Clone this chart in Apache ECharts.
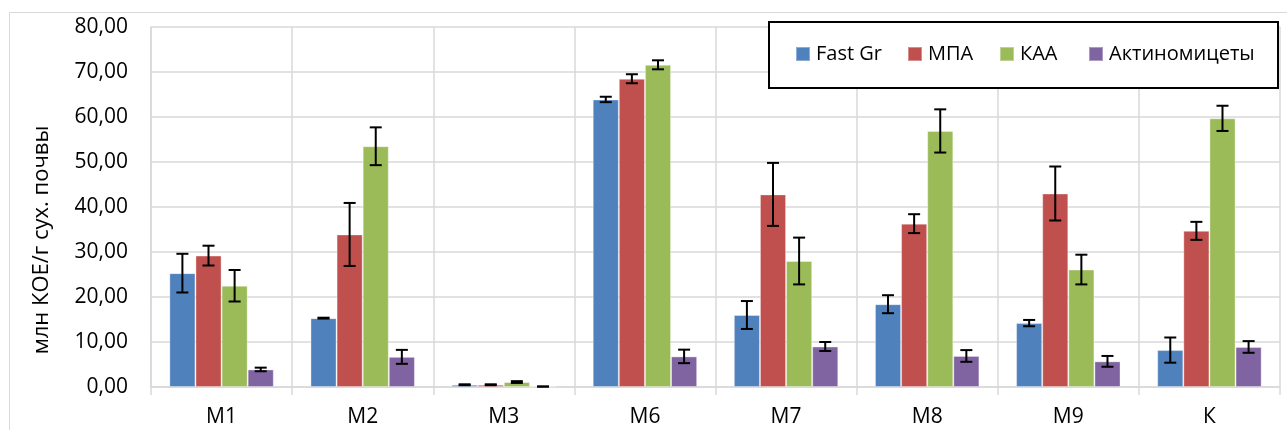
<!DOCTYPE html>
<html>
<head>
<meta charset="utf-8">
<script src="https://cdn.jsdelivr.net/npm/echarts@6/dist/echarts.min.js"></script>
<style>
html,body{margin:0;padding:0;background:#fff;}
#chart{width:1287px;height:430px;}
</style>
</head>
<body>
<div id="chart"></div>
<script>
const categories = ['М1', 'М2', 'М3', 'М6', 'М7', 'М8', 'М9', 'К'];
const seriesNames = ['Fast Gr', 'МПА', 'КАА', 'Актиномицеты'];
const fastGr     = [25.3, 15.3, 0.5, 63.9, 16.0, 18.4, 14.2, 8.2];
const fastGrErr  = [4.3, 0.1, 0.1, 0.6, 3.1, 2.0, 0.7, 2.8];
const mpa        = [29.2, 33.9, 0.5, 68.5, 42.8, 36.3, 43.0, 34.7];
const mpaErr     = [2.2, 7.0, 0.1, 1.0, 7.0, 2.1, 6.0, 2.0];
const kaa        = [22.5, 53.5, 1.1, 71.6, 28.0, 56.9, 26.1, 59.7];
const kaaErr     = [3.5, 4.2, 0.2, 1.0, 5.2, 4.8, 3.3, 2.8];
const actino     = [3.9, 6.7, 0.1, 6.8, 9.0, 6.9, 5.7, 8.9];
const actinoErr  = [0.4, 1.55, 0.0, 1.5, 1.0, 1.3, 1.2, 1.3];
const yTicks = {min: 0, max: 80, interval: 10};

const values = [fastGr, mpa, kaa, actino];
const errors = [fastGrErr, mpaErr, kaaErr, actinoErr];
const colors = ['#4F81BD', '#C0504D', '#9BBB59', '#8064A2'];
const gapPct = 0.26;
const FONT = '"Open Sans", "Liberation Sans", sans-serif';

const chart = echarts.init(document.getElementById('chart'), null, {renderer: 'canvas'});

const series = [];
values.forEach((vals, k) => {
  series.push({
    name: seriesNames[k],
    type: 'bar',
    data: vals,
    barGap: '0%',
    barCategoryGap: (gapPct * 100) + '%',
    itemStyle: {color: colors[k], borderColor: 'rgba(255,255,255,0.35)', borderWidth: 1},
    z: 2
  });
});
values.forEach((vals, k) => {
  series.push({
    type: 'custom',
    name: seriesNames[k] + ' err',
    z: 5,
    silent: true,
    data: vals.map((v, i) => [i, v - errors[k][i], v + errors[k][i]]),
    renderItem: function (params, api) {
      const i = api.value(0);
      const lo = api.coord([i, api.value(1)]);
      const hi = api.coord([i, api.value(2)]);
      const band = api.size([1, 0])[0];
      const barW = band * (1 - gapPct) / 4;
      const x = lo[0] + (k - 1.5) * barW;
      const cap = 6;
      const st = {stroke: '#000', lineWidth: 2};
      return {
        type: 'group',
        children: [
          {type: 'line', shape: {x1: x, y1: lo[1], x2: x, y2: hi[1]}, style: st},
          {type: 'line', shape: {x1: x - cap, y1: lo[1], x2: x + cap, y2: lo[1]}, style: st},
          {type: 'line', shape: {x1: x - cap, y1: hi[1], x2: x + cap, y2: hi[1]}, style: st}
        ]
      };
    }
  });
});

const legendX = [795, 907, 999, 1088];
const legends = seriesNames.map((n, k) => ({
  data: [n],
  left: legendX[k],
  top: 44,
  padding: 0,
  itemWidth: 14,
  itemHeight: 14,
  icon: 'rect',
  z: 20,
  textStyle: {fontFamily: FONT, fontSize: 20, color: '#000', padding: [0, 0, 0, 1]}
}));

chart.setOption({
  animation: false,
  backgroundColor: '#fff',
  grid: {left: 151, right: 7, top: 27, bottom: 43, containLabel: false},
  legend: legends,
  graphic: [
    {type: 'rect', z: 0, silent: true,
     shape: {x: 9.5, y: 12.5, width: 1300, height: 440},
     style: {fill: 'none', stroke: '#d9d9d9', lineWidth: 1}},
    {type: 'rect', z: 10, silent: true,
     shape: {x: 769, y: 22, width: 509, height: 66},
     style: {fill: '#fff', stroke: '#000', lineWidth: 2}},
    {type: 'text', z: 10, silent: true,
     x: 42, y: 240, rotation: Math.PI / 2,
     style: {text: 'млн КОЕ/г сух. почвы', font: '22px ' + FONT, fill: '#000',
              textAlign: 'center', textVerticalAlign: 'middle',
              align: 'center', verticalAlign: 'middle'}}
  ],
  xAxis: {
    type: 'category',
    data: categories,
    boundaryGap: true,
    axisLine: {show: true, lineStyle: {color: '#d9d9d9', width: 1.5}},
    axisTick: {show: true, length: 8, lineStyle: {color: '#d9d9d9', width: 1.5}},
    splitLine: {show: true, lineStyle: {color: '#d9d9d9', width: 1.5}},
    axisLabel: {fontFamily: FONT, fontSize: 21, color: '#000', margin: 20}
  },
  yAxis: {
    type: 'value',
    min: yTicks.min,
    max: yTicks.max,
    interval: yTicks.interval,
    axisLine: {show: true, lineStyle: {color: '#d9d9d9', width: 1.5}},
    axisTick: {show: false},
    splitLine: {show: true, lineStyle: {color: '#d9d9d9', width: 1.5}},
    axisLabel: {fontFamily: FONT, fontSize: 21, color: '#000', margin: 23,
                formatter: v => v.toFixed(2).replace('.', ',')}
  },
  series: series
});
</script>
</body>
</html>
